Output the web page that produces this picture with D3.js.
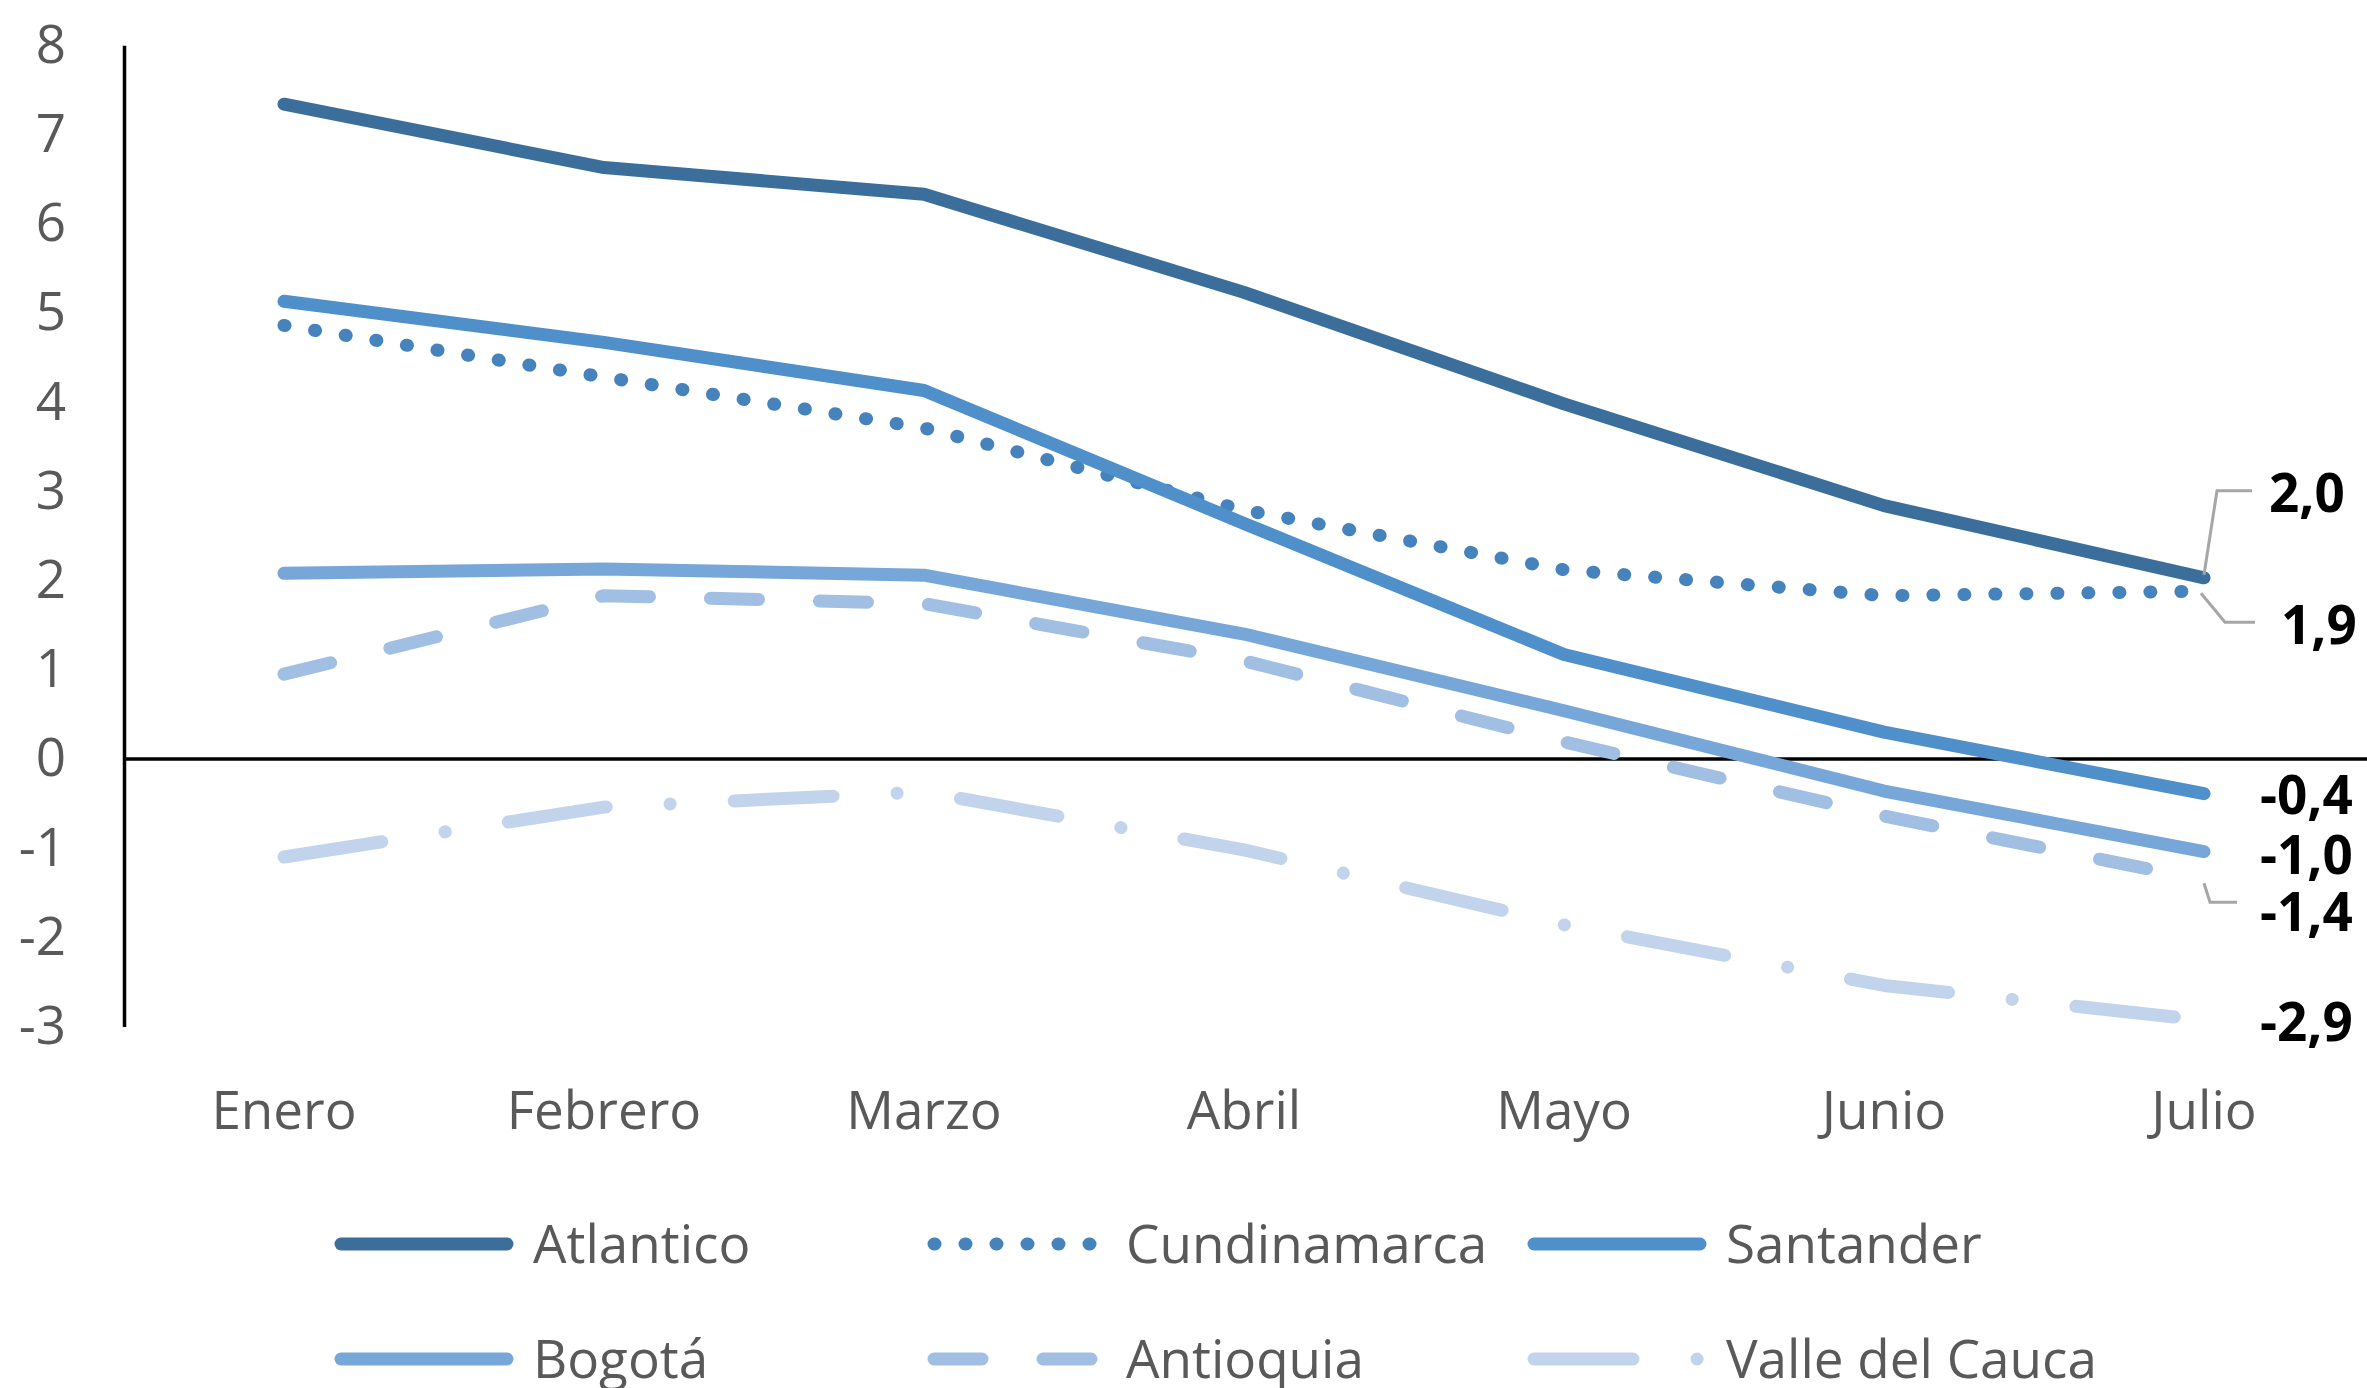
<!DOCTYPE html>
<html>
<head>
<meta charset="utf-8">
<script src="https://cdn.jsdelivr.net/npm/d3@7"></script>
<style>
  body { margin: 0; background: #fff; }
  text { font-family: "Open Sans", sans-serif; }
</style>
</head>
<body>
<div id="chart"></div>
<script>
// Months on the x axis
const months = ["Enero", "Febrero", "Marzo", "Abril", "Mayo", "Junio", "Julio"];

// Series values
const atlantico    = [7.34, 6.63, 6.33, 5.23, 3.98, 2.84, 2.03];
const cundinamarca = [4.86, 4.28, 3.71, 2.79, 2.12, 1.83, 1.88];
const santander    = [5.13, 4.67, 4.13, 2.64, 1.17, 0.30, -0.39];
const bogota       = [2.08, 2.13, 2.06, 1.40, 0.54, -0.36, -1.04];
const antioquia    = [0.95, 1.83, 1.74, 1.10, 0.19, -0.64, -1.36];
const valle        = [-1.10, -0.54, -0.37, -1.02, -1.86, -2.54, -2.93];

const yTicks = [-3, -2, -1, 0, 1, 2, 3, 4, 5, 6, 7, 8];

const seriesNames = ["Atlantico", "Cundinamarca", "Santander", "Bogotá", "Antioquia", "Valle del Cauca"];
const seriesValues = [atlantico, cundinamarca, santander, bogota, antioquia, valle];

// Styling for each series, same order as seriesNames
const styles = [
    { color: "#3c6e9b", dash: null },
    { color: "#4682bb", dash: "1,30" },
    { color: "#4f8fca", dash: null },
    { color: "#77a7d9", dash: null },
    { color: "#a1bee3", dash: "48,61" },
    { color: "#c2d4eb", dash: "99,64,0.1,64" }
];

// Where the Julio labels sit relative to their point, and their leader lines
const labelLayout = [
    { dx: 65, dy: -84, leader: [[0, -3], [13, -87], [48, -87]] },
    { dx: 77, dy: 34,  leader: [[-3, 2], [21, 31], [51, 31]] },
    { dx: 56, dy: 2,   leader: null },
    { dx: 56, dy: 4,   leader: null },
    { dx: 56, dy: 32,  leader: [[0, 3], [6, 22], [33, 22]] },
    { dx: 56, dy: 2,   leader: null }
];

const W = 2367, H = 1388;
const lineWidth = 13;
const textColor = "#595959";
const fontSize = 53;

const svg = d3.select("#chart")
    .append("svg")
    .attr("width", W)
    .attr("height", H);

// Scales
const xScale = d3.scaleBand()
    .domain(months)
    .range([124, 2364]);

const xMid = d => xScale(d) + xScale.bandwidth() / 2;

const yScale = d3.scaleLinear()
    .domain([-3, 8])
    .range([1026.5, 45.3]);

// Y axis
const yAxis = d3.axisLeft(yScale)
    .tickValues(yTicks)
    .tickFormat(d3.format("d"))
    .tickSize(0)
    .tickSizeOuter(0)
    .tickPadding(58);

const yG = svg.append("g")
    .attr("transform", "translate(124,0)")
    .call(yAxis);

yG.select(".domain").attr("stroke", "#000").attr("stroke-width", 3.5);
yG.selectAll("text")
    .attr("fill", textColor)
    .style("font-size", fontSize + "px")
    .text(d => d < 0 ? "-" + Math.abs(d) : d);

// X axis labels (no line)
const xAxis = d3.axisBottom(xScale).tickSize(0);
const xG = svg.append("g")
    .call(xAxis);
xG.select(".domain").remove();
xG.selectAll("text")
    .attr("y", 1110)
    .attr("dy", "0.35em")
    .attr("fill", textColor)
    .style("font-size", fontSize + "px");

// Zero line
svg.append("line")
    .attr("x1", 124)
    .attr("x2", W)
    .attr("y1", yScale(0))
    .attr("y2", yScale(0))
    .attr("stroke", "#000")
    .attr("stroke-width", 3.5);

// Lines
const line = d3.line()
    .x((d, i) => xMid(months[i]))
    .y(d => yScale(d));

seriesValues.forEach((vals, i) => {
    svg.append("path")
        .datum(vals)
        .attr("d", line)
        .attr("fill", "none")
        .attr("stroke", styles[i].color)
        .attr("stroke-width", lineWidth)
        .attr("stroke-linecap", "round")
        .attr("stroke-linejoin", "round")
        .attr("stroke-dasharray", styles[i].dash);
});

// Data labels on the last month
const fmt = v => v.toFixed(1).replace(".", ",");
const last = months.length - 1;

seriesValues.forEach((vals, i) => {
    const px = xMid(months[last]);
    const py = yScale(vals[last]);
    const lay = labelLayout[i];

    if (lay.leader) {
        svg.append("path")
            .attr("d", d3.line()(lay.leader.map(p => [px + p[0], py + p[1]])))
            .attr("fill", "none")
            .attr("stroke", "#a6a6a6")
            .attr("stroke-width", 3);
    }

    svg.append("text")
        .attr("x", px + lay.dx)
        .attr("y", py + lay.dy)
        .attr("dy", "0.35em")
        .attr("fill", "#000")
        .style("font-size", fontSize + "px")
        .style("font-weight", 700)
        .text(fmt(vals[last]));
});

// Legend
const legendCols = [335, 928, 1528];
const legendRows = [1244, 1359];

seriesNames.forEach((name, i) => {
    const lx = legendCols[i % 3];
    const ly = legendRows[Math.floor(i / 3)];
    const g = svg.append("g").attr("transform", `translate(${lx},${ly})`);

    g.append("line")
        .attr("x1", 6)
        .attr("x2", 172)
        .attr("y1", 0)
        .attr("y2", 0)
        .attr("stroke", styles[i].color)
        .attr("stroke-width", lineWidth)
        .attr("stroke-linecap", "round")
        .attr("stroke-dasharray", styles[i].dash);

    g.append("text")
        .attr("x", 198)
        .attr("y", 0)
        .attr("dy", "0.35em")
        .attr("fill", textColor)
        .style("font-size", fontSize + "px")
        .text(name);
});
</script>
</body>
</html>
